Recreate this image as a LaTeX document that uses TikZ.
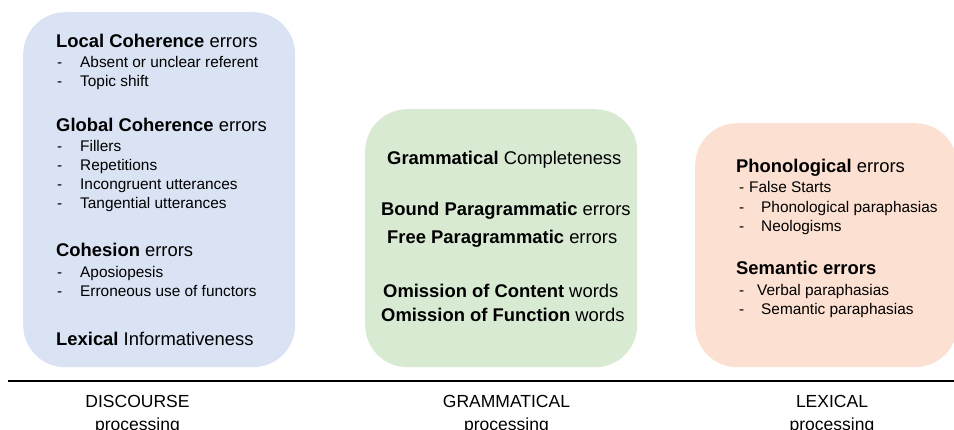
\documentclass[tikz,border=0pt]{standalone}
\usepackage{fontspec}
\setmainfont{Liberation Sans}
\usetikzlibrary{positioning}
\definecolor{discfill}{HTML}{DAE3F3}
\definecolor{gramfill}{HTML}{D9EAD3}
\definecolor{lexfill}{HTML}{FCE0D2}
\tikzset{
    panel/.style = {draw=none,rounded corners=42pt,inner sep=0,anchor=north west},
    head/.style = {anchor=base west,inner sep=0,font=\fontsize{18.4}{22}\selectfont},
    entry/.style = {anchor=base west,inner sep=0,font=\fontsize{15.4}{18}\selectfont},
    bullet/.style = {entry},
    axis/.style = {line width=2.6pt},
    level/.style = {anchor=base,inner sep=0,font=\fontsize{17.5}{21}\selectfont}
}

\begin{document}
\begin{tikzpicture}[x=1pt,y=-1pt]
        \useasboundingbox (0,0) rectangle (954,429);
        % Panels
        \path node[panel,fill=discfill,minimum width=272pt,minimum height=355pt] (disc) at (23,12) {}
            node[panel,fill=gramfill,minimum width=272pt,minimum height=258pt] (gram) at (365,109) {}
            node[panel,fill=lexfill,minimum width=262pt,minimum height=244pt] (lex) at (695,123) {}
        ;
        % Discourse headings
        \path node[head] (loccoh) at (56,47) {\textbf{Local Coherence} errors}
            node[head] (globcoh) at (56,131) {\textbf{Global Coherence} errors}
            node[head] (cohes) at (56,256) {\textbf{Cohesion} errors}
            node[head] (lexinf) at (56,345) {\textbf{Lexical} Informativeness}
        ;
        % Discourse entries
        \foreach \y/\txt [count=\i] in {67/Absent or unclear referent,86/Topic shift,
                151/Fillers,170/Repetitions,189/Incongruent utterances,208/Tangential utterances,
                277/Aposiopesis,296/Erroneous use of functors}
            \path node[bullet] (disc-dash-\i) at (57,\y) {-}
                node[entry] (disc-item-\i) at (80,\y) {\txt};
        % Grammatical entries
        \path node[head] (gramcompl) at (387,164) {\textbf{Grammatical} Completeness}
            node[head] (boundpg) at (381,215) {\textbf{Bound Paragrammatic} errors}
            node[head] (freepg) at (387,243) {\textbf{Free Paragrammatic} errors}
            node[head] (omcont) at (383,297) {\textbf{Omission of Content} words}
            node[head] (omfunc) at (381,321) {\textbf{Omission of Function} words}
        ;
        % Lexical headings
        \path node[head] (phon) at (736,172) {\textbf{Phonological} errors}
            node[head] (sem) at (736,274) {\textbf{Semantic errors}}
        ;
        % Lexical entries
        \foreach \x/\y/\txt [count=\i] in {749/192/False Starts,761/212/Phonological paraphasias,
                761/231/Neologisms,757/295/Verbal paraphasias,761/314/Semantic paraphasias}
            \path node[bullet] (lex-dash-\i) at (739,\y) {-}
                node[entry] (lex-item-\i) at (\x,\y) {\txt};
        % Processing axis
        \path (8,381) coordinate (axstart)
            (954,381) coordinate (axend)
        ;
        \draw[axis] (axstart) -- (axend);
        \path node[level] (disclev) at (137.5,407) {DISCOURSE}
            node[level] (disclev2) at (137.5,430) {processing}
            node[level] (gramlev) at (506.5,407) {GRAMMATICAL}
            node[level] (gramlev2) at (506.5,430) {processing}
            node[level] (lexlev) at (832,407) {LEXICAL}
            node[level] (lexlev2) at (832,430) {processing}
        ;
\end{tikzpicture}
\end{document}
